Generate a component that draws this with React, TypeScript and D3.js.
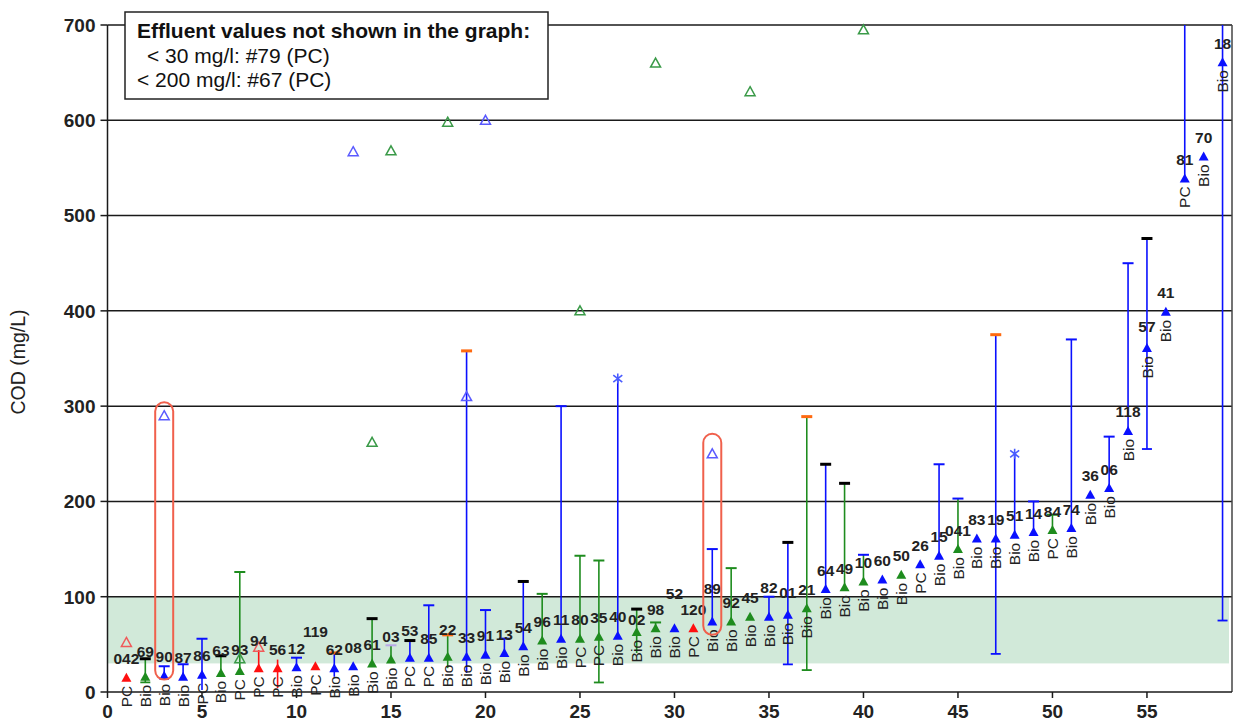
import React from "react";
import * as d3 from "d3";

// ---- data ----
const ids = ["042","69","90","87","86","63","93","94","56","12","119","62","08","61","03","53","85","22","33","91","13","54","96","11","80","35","40","02","98","52","120","89","92","45","82","01","21","64","49","10","60","50","26","15","041","83","19","51","14","84","74","36","06","118","57","41","81","70","18"];
const plantTypes = ["PC","Bio","Bio","Bio","PC","Bio","PC","PC","PC","Bio","PC","Bio","Bio","Bio","Bio","PC","PC","Bio","Bio","Bio","Bio","Bio","Bio","Bio","PC","PC","Bio","Bio","Bio","Bio","PC","Bio","Bio","Bio","Bio","Bio","Bio","Bio","Bio","Bio","Bio","Bio","PC","Bio","Bio","Bio","Bio","Bio","Bio","PC","Bio","Bio","Bio","Bio","Bio","Bio","PC","Bio","Bio"];
const groups = ["r","g","b","b","b","g","g","r","r","b","r","b","b","g","g","b","b","g","b","b","b","b","g","b","g","g","b","g","g","b","r","b","g","g","b","b","g","b","g","g","b","g","b","b","g","b","b","b","b","g","b","b","b","b","b","b","b","b","b"];
const meanCOD = [15,16,17,16,18,20,22,25,25,26,27,25,27,30,34,36,36,37,37,39,41,48,54,56,56,58,59,63,67,67,67,74,74,79,79,81,88,108,110,116,118,123,134,143,150,161,161,165,168,170,172,207,214,274,361,399,539,562,661];
// error bar maxima / minima (null = none)
const maxCOD = [null,35,27,29,56,38,126,44,34,36,null,41,null,77,49,54,91,60,358,86,56,116,103,300,143,138,null,87,73,null,null,150,130,null,100,157,289,239,219,144,null,null,null,239,203,null,375,null,200,186,370,null,268,450,476,null,800,null,800];
const minCOD = [null,10,null,null,2,null,null,null,4,null,null,16,null,null,null,null,null,25,20,null,null,null,null,null,null,10,null,41,null,null,null,null,null,null,null,29,23,null,null,null,null,null,null,null,null,null,40,null,null,null,null,null,null,null,255,null,null,null,75];
// cap colour of the maximum: s = same as series, k = black, o = orange, l = lavender, b = blue
const maxCap = [null,"k","s","s","s","k","s",null,null,"s",null,"o",null,"k","l","k","s","o","o","s","s","k","s","s","s","s",null,"k","s",null,null,"s","s",null,"s","k","o","k","k","b",null,null,null,"s","b",null,"o",null,"s","s","s",null,"s","s","k",null,null,null,null];
const minCapIdx = [2,26,36,37,47,55,59];
const outlierIdx = [1,3,7,8,13,14,15,18,19,20,25,29,32,34,40];
const outlierCOD = [52,290,35,47,567,262,568,598,310,600,400,660,250,630,695];
const starIdx = [27,48];
const starCOD = [329,250];
const highlightIdx = [3,32];
const highlightFrom = [13,60];
const highlightTo = [304,271];
const yTicks = [0,100,200,300,400,500,600,700];
const xTicks = [0,5,10,15,20,25,30,35,40,45,50,55];
const bandRange = [30,100];
const legendLines = ["Effluent values not shown in the graph:", "< 30 mg/l: #79 (PC)", "< 200 mg/l: #67 (PC)"];

// ---- layout / style ----
const W = 1233, H = 722;
const FONT = "'Liberation Sans', Arial, sans-serif";
const colors: Record<string,string> = { r: "#ff1010", g: "#1e8c1e", b: "#0a10ff" };
const openColors: Record<string,string> = { r: "#f05a5a", g: "#3a9a48", b: "#5a5aff" };
const capColors: Record<string,string> = { k: "#000000", o: "#ff6a10", l: "#b8a8e8", b: "#0a10ff" };
const labelLift: Record<number,number> = { 2: 25, 6: 23, 7: 22, 8: 28, 11: 35, 15: 23, 16: 27, 18: 27, 28: 13, 30: 35, 32: 33, 35: 29, 36: 22, 55: 22 };

export default function App() {
  const x = d3.scaleLinear().domain([0, 59.5]).range([107.5, 1232]);
  const y = d3.scaleLinear().domain([0, 700]).range([692, 25]);
  const [x0, x1] = x.range();
  const [yb, yt] = y.range();
  const tri = (cx: number, cy: number) => `M${cx},${cy - 5}L${cx + 5},${cy + 4}L${cx - 5},${cy + 4}Z`;
  const idx = d3.range(1, meanCOD.length + 1);

  return (
    <div>
      <style>{`body{margin:0}`}</style>
      <svg width={W} height={H} style={{ display: "block", fontFamily: FONT }}>
        <defs>
          <clipPath id="plot"><rect x={x0} y={yt} width={x1 - x0} height={yb - yt} /></clipPath>
        </defs>
        <rect width={W} height={H} fill="#fff" />
        {/* band */}
        <rect x={x0} y={y(bandRange[1])} width={x1 - x0 - 3} height={y(bandRange[0]) - y(bandRange[1])} fill="#d1e9d9" />
        {/* gridlines */}
        {yTicks.map(t => (
          <g key={t}>
            {t > 0 && <line x1={x0} x2={x1} y1={y(t)} y2={y(t)} stroke="#1a1a1a" strokeWidth={1.5} />}
            <line x1={x0 - 7} x2={x0} y1={y(t)} y2={y(t)} stroke="#1a1a1a" strokeWidth={1.5} />
            <text x={x0 - 12} y={y(t)} dy="0.36em" textAnchor="end" fontSize={19} fontWeight="bold" fill="#222">{t}</text>
          </g>
        ))}
        {/* frame */}
        <line x1={x1} x2={x1} y1={yt} y2={yb} stroke="#444" strokeWidth={1.5} />
        <line x1={x0} x2={x0} y1={yt} y2={yb} stroke="#1a1a1a" strokeWidth={1.5} />
        <line x1={x0} x2={x1} y1={yb} y2={yb} stroke="#1a1a1a" strokeWidth={1.5} />
        {xTicks.map(t => (
          <g key={t}>
            <line x1={x(t)} x2={x(t)} y1={yb} y2={yb + 6} stroke="#1a1a1a" strokeWidth={1.5} />
            <text x={x(t)} y={718} textAnchor="middle" fontSize={19} fontWeight="bold" fill="#222">{t}</text>
          </g>
        ))}
        <text transform={`translate(25,362) rotate(-90)`} textAnchor="middle" fontSize={19.5} fill="#222">COD (mg/L)</text>

        {/* error bars */}
        <g clipPath="url(#plot)">
          {idx.map(i => {
            const k = i - 1;
            const hi = maxCOD[k], lo = minCOD[k];
            if (hi == null && lo == null) return null;
            const c = colors[groups[k]];
            const top = hi ?? meanCOD[k];
            const bot = lo ?? meanCOD[k];
            const cx = x(i);
            const cap = maxCap[k];
            const capC = cap == null ? null : cap === "s" ? c : capColors[cap];
            const thick = cap === "k" || cap === "o" ? 3 : 2;
            return (
              <g key={i}>
                <line x1={cx} x2={cx} y1={y(top)} y2={y(bot)} stroke={c} strokeWidth={1.6} />
                {capC && hi != null && <line x1={cx - 5.5} x2={cx + 5.5} y1={y(hi)} y2={y(hi)} stroke={capC} strokeWidth={thick} />}
                {lo != null && minCapIdx.includes(i) && <line x1={cx - 5} x2={cx + 5} y1={y(lo)} y2={y(lo)} stroke={c} strokeWidth={1.8} />}
              </g>
            );
          })}
          {starIdx.map((i, j) => {
            const cx = x(i), cy = y(starCOD[j]);
            return (
              <g key={"s" + i}>
                <line x1={cx} x2={cx} y1={y(meanCOD[i - 1])} y2={cy} stroke={colors[groups[i - 1]]} strokeWidth={1.6} />
                <path d={`M${cx},${cy - 5}L${cx},${cy + 5}M${cx - 4.5},${cy - 3.5}L${cx + 4.5},${cy + 3.5}M${cx - 4.5},${cy + 3.5}L${cx + 4.5},${cy - 3.5}`} stroke="#4a5cff" strokeWidth={1.6} fill="none" />
              </g>
            );
          })}
        </g>

        {/* outliers */}
        {outlierIdx.map((i, j) => (
          <path key={"o" + i} d={tri(x(i), y(outlierCOD[j]))} fill="none" stroke={openColors[groups[i - 1]]} strokeWidth={1.5} />
        ))}

        {/* means */}
        {idx.map(i => {
          const k = i - 1;
          const cx = x(i), cy = y(meanCOD[k]);
          const lift = labelLift[i] ?? 19;
          return (
            <g key={"m" + i}>
              <path d={tri(cx, cy)} fill={colors[groups[k]]} />
              <text x={cx} y={cy - lift} dy="0.36em" textAnchor="middle" fontSize={15.5} fontWeight="bold" fill="#222">{ids[k]}</text>
              <text transform={`translate(${cx},${cy + 8}) rotate(-90)`} textAnchor="end" dy="0.36em" fontSize={15.5} fill="#222">{plantTypes[k]}</text>
            </g>
          );
        })}

        {/* highlights */}
        {highlightIdx.map((i, j) => (
          <rect key={"h" + i} x={x(i) - 9} width={18} y={y(highlightTo[j])} height={y(highlightFrom[j]) - y(highlightTo[j])} rx={9} ry={9} fill="none" stroke="#f0604c" strokeWidth={2} />
        ))}

        {/* legend */}
        <rect x={125} y={12} width={423} height={87} fill="#fff" stroke="#222" strokeWidth={1.5} />
        <text x={137} y={38} fontSize={21} fontWeight="bold" fill="#111">{legendLines[0]}</text>
        <text x={147} y={63} fontSize={21} fill="#111">{legendLines[1]}</text>
        <text x={137} y={87} fontSize={21} fill="#111">{legendLines[2]}</text>
      </svg>
    </div>
  );
}
